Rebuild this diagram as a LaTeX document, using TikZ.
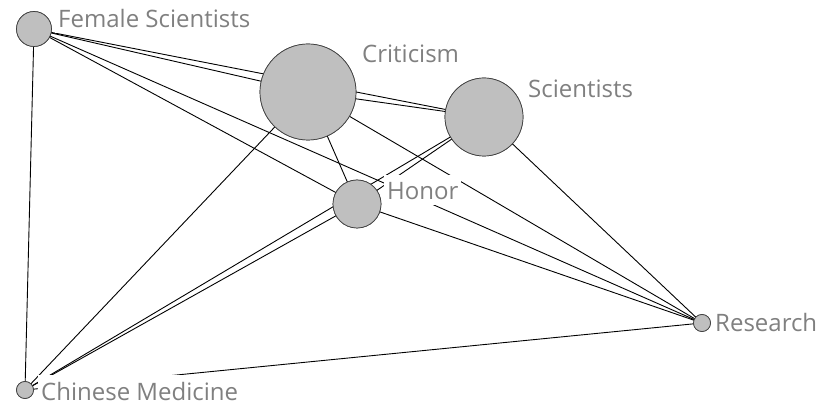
\documentclass[tikz,border=0pt]{standalone}
\usepackage{fontspec}
\setmainfont{Open Sans}
\begin{document}
\begin{tikzpicture}[x=1pt,y=-1pt,
  vert/.style={circle,fill=black!25,draw=black!75,line width=0.7pt,inner sep=0pt},
  edge/.style={draw=black,line width=0.9pt},
  lbl/.style={anchor=base west,fill=white,text=black!50,inner xsep=3pt,inner ysep=2pt,
    text height=23pt,text depth=3pt,font=\fontsize{24}{28}\selectfont}]
\useasboundingbox[fill=white] (0,0) rectangle (820,406);
\node[vert,minimum size=35pt] (fs) at (34,29) {};
\node[vert,minimum size=96pt] (cr) at (308,92) {};
\node[vert,minimum size=78pt] (sc) at (484,117) {};
\node[vert,minimum size=48pt] (ho) at (357,204) {};
\node[vert,minimum size=17pt] (re) at (702,323) {};
\node[vert,minimum size=17pt] (cm) at (25,390) {};
\foreach \a/\b in {fs/cr,fs/sc,fs/ho,fs/re,fs/cm,cr/sc,cr/ho,cr/cm,cr/re,sc/ho,sc/cm,sc/re,ho/cm,ho/re,cm/re}
  \draw[edge] (\a.center) -- (\b.center);
\node[vert,minimum size=35pt] at (fs) {};
\node[vert,minimum size=96pt] at (cr) {};
\node[vert,minimum size=78pt] at (sc) {};
\node[vert,minimum size=48pt] at (ho) {};
\node[vert,minimum size=17pt] at (re) {};
\node[vert,minimum size=17pt] at (cm) {};
\node[lbl] (lfs) at (55,28) {Female Scientists};
\node[lbl] (lcr) at (359,63) {Criticism};
\node[lbl] (lsc) at (525,98) {Scientists};
\node[lbl] (lho) at (384,200) {Honor};
\node[lbl] (lre) at (712,332) {Research};
\node[lbl] (lcm) at (38,400) {Chinese Medicine};
\end{tikzpicture}
\end{document}
